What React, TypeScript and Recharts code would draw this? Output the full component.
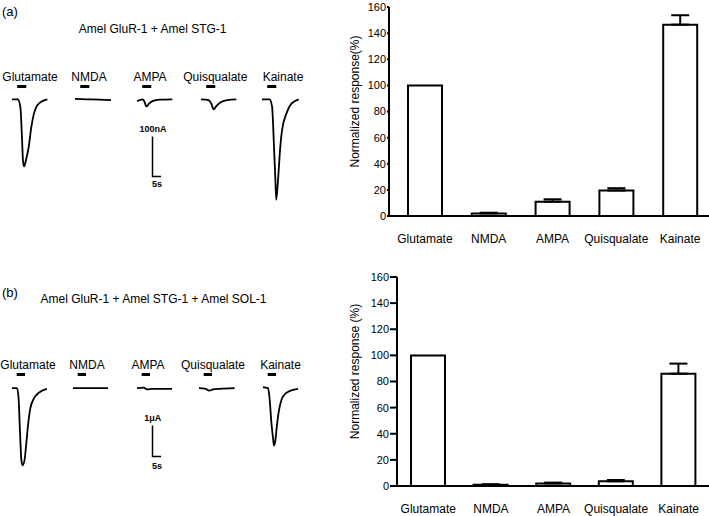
import { BarChart, Bar, XAxis, YAxis, ErrorBar, LineChart, Line, ReferenceArea, Label } from 'recharts';

const drugs = ['Glutamate', 'NMDA', 'AMPA', 'Quisqualate', 'Kainate'];
const yTicks = [0, 20, 40, 60, 80, 100, 120, 140, 160];

// normalized responses (% of glutamate) with upper SEM (glutamate is the reference, no error)
const responseA = [100, 2, 11, 19.5, 146.5];
const errorA = [null, 0.5, 1.8, 1.8, 7.2];
const responseB = [100, 1, 2, 3.6, 86];
const errorB = [null, 0.3, 0.6, 1, 7.7];

// current traces, [time (s), current]; row (a) in nA, row (b) in µA
const gluA: [number, number][] = [[0, 0], [3.4, 0], [4.8, -19], [5.8, -103], [6.3, -154], [6.9, -169], [8.2, -150], [9.6, -120], [11.1, -70], [12.6, -36], [14, -19], [15.9, -9], [17.8, -4], [20.3, 0]];
const nmdaA: [number, number][] = [[0, 1], [7, 0], [14, -1], [20.7, -2]];
const ampaA: [number, number][] = [[0, -5], [3.1, 0], [4.2, -5], [5.4, -18], [6.9, -11], [9.2, -4], [13, -1], [20.3, 0]];
const quisA: [number, number][] = [[0, 0], [4.4, -2], [5.8, -10], [7.3, -25], [8.8, -17], [11.1, -8], [14.9, -2], [20.3, 0]];
const kaiA: [number, number][] = [[0, 0], [4.4, 0], [5.8, -19], [6.9, -120], [7.7, -204], [8.2, -253], [9.2, -204], [10.5, -120], [11.5, -78], [14, -36], [16.9, -11], [21.1, 0]];

const gluB: [number, number][] = [[0, 0], [2.9, 0], [3.8, -0.34], [4.6, -1.42], [5.4, -2.33], [6.1, -2.49], [7.3, -2.28], [8.1, -1.85], [9.2, -1.2], [10.5, -0.66], [12.5, -0.34], [15.3, -0.15], [20.1, -0.02]];
const nmdaB: [number, number][] = [[0, 0], [10, 0], [20.1, 0]];
const ampaB: [number, number][] = [[0, 0], [3.8, 0.02], [5.8, -0.04], [8.6, -0.02], [13.4, -0.02], [20.1, -0.02]];
const quisB: [number, number][] = [[0, 0], [3.8, -0.02], [5.8, -0.08], [8.1, -0.04], [11.9, -0.02], [20.5, 0]];
const kaiB: [number, number][] = [[0, 0.03], [2.9, 0], [3.8, -0.34], [4.8, -1.1], [5.8, -1.63], [6.3, -1.85], [7.1, -1.69], [7.9, -1.26], [9, -0.77], [10.5, -0.4], [12.8, -0.18], [16.3, -0.07], [20.1, -0.02]];

const tracesA = [gluA, nmdaA, ampaA, quisA, kaiA];
const tracesB = [gluB, nmdaB, ampaB, quisB, kaiB];

// layout
const FONT = '"Liberation Sans", Arial, sans-serif';
const TRACE_W = 38;
const PX_PER_S = 1.74;
const traceLeftA = [12.3, 75, 137.3, 200.7, 262.3];
const traceLeftB = [11.7, 72.7, 136.7, 199.3, 263.3];
const labelXA = [30, 89, 150, 215.3, 283];
const labelXB = [28, 87, 148, 213, 280.5];

const StimBar = (p: any) => <rect x={p.x} y={p.y} width={p.width} height={3} fill="#000" />;

function Trace({ pts, left, top, height, domain, stim }: any) {
  const data = pts.map(([t, i]: [number, number]) => ({ t, i }));
  return (
    <div style={{ position: 'absolute', left, top }}>
      <LineChart width={TRACE_W} height={height} data={data} margin={{ top: 0, right: 0, bottom: 0, left: 0 }}>
        <XAxis dataKey="t" type="number" domain={[0, TRACE_W / PX_PER_S]} hide />
        <YAxis type="number" domain={domain} hide />
        <ReferenceArea x1={stim[0]} x2={stim[1]} shape={StimBar} ifOverflow="visible" />
        <Line type="monotone" dataKey="i" stroke="#000" strokeWidth={1.8} dot={false} isAnimationActive={false} />
      </LineChart>
    </div>
  );
}

function Tag({ x, y, text, size = 12, bold = false }: any) {
  return (
    <div style={{ position: 'absolute', left: x, top: y, transform: 'translate(-50%, -50%)', whiteSpace: 'nowrap', fontSize: size, fontWeight: bold ? 'bold' : 'normal', lineHeight: 1 }}>
      {text}
    </div>
  );
}

function ResponseChart({ values, errors, top, width, height, marginTop, axisHeight, yAxisWidth, tickSize, padLeft, title }: any) {
  const data = drugs.map((name, k) => ({ name, value: values[k], err: errors[k] == null ? null : [0, errors[k]] }));
  const yTitle = (props: any) => {
    const vb = props.viewBox || { x: 0, y: marginTop, width: yAxisWidth, height: height - marginTop - axisHeight };
    const cx = vb.x + 15;
    const cy = vb.y + vb.height / 2 - 10;
    return (
      <text x={cx} y={cy} transform={`rotate(-90 ${cx} ${cy})`} textAnchor="middle" dominantBaseline="central" fontSize={12} fill="#000">
        {title}
      </text>
    );
  };
  return (
    <div style={{ position: 'absolute', left: 340, top }}>
      <BarChart width={width} height={height} data={data} margin={{ top: marginTop, right: 0, bottom: 0, left: 0 }}>
        <XAxis
          dataKey="name"
          interval={0}
          height={axisHeight}
          padding={{ left: padLeft, right: 0 }}
          tickLine={false}
          tickSize={0}
          tickMargin={18.5}
          axisLine={{ stroke: '#000', strokeWidth: 2 }}
          tick={{ fill: '#000', fontSize: 12 }}
        />
        <YAxis
          domain={[0, 160]}
          ticks={yTicks}
          interval={0}
          width={yAxisWidth}
          tickSize={tickSize}
          tickMargin={1}
          axisLine={{ stroke: '#000', strokeWidth: 2 }}
          tickLine={{ stroke: '#000', strokeWidth: 2 }}
          tick={{ fill: '#000', fontSize: 11 }}
        >
          <Label content={yTitle} />
        </YAxis>
        <Bar dataKey="value" fill="#fff" stroke="#000" strokeWidth={2} barSize={34} isAnimationActive={false}>
          <ErrorBar dataKey="err" width={9} stroke="#000" strokeWidth={2} direction="y" />
        </Bar>
      </BarChart>
    </div>
  );
}

export default function App() {
  return (
    <div style={{ position: 'absolute', left: 0, top: 0, width: 709, height: 516, overflow: 'hidden', background: '#fff', fontFamily: FONT, color: '#000' }}>
      {/* panel (a) */}
      <div style={{ position: 'absolute', left: 2, top: 4, fontSize: 13 }}>(a)</div>
      <Tag x={152.7} y={29.3} text="Amel GluR-1 + Amel STG-1" />
      {drugs.map((d, k) => (
        <Tag key={'la' + d} x={labelXA[k]} y={77.3} text={d} />
      ))}
      {tracesA.map((pts, k) => (
        <Trace key={'ta' + k} pts={pts} left={traceLeftA[k]} top={85} height={120} domain={[-266, 36]} stim={[3, 8.2]} />
      ))}
      <Tag x={153} y={128.5} text="100nA" size={9} bold />
      <Tag x={157} y={184} text="5s" size={9} bold />

      {/* panel (b) */}
      <div style={{ position: 'absolute', left: 2, top: 285, fontSize: 13 }}>(b)</div>
      <Tag x={153.5} y={299} text="Amel GluR-1 + Amel STG-1 + Amel SOL-1" />
      {drugs.map((d, k) => (
        <Tag key={'lb' + d} x={labelXB[k]} y={365.3} text={d} />
      ))}
      {tracesB.map((pts, k) => (
        <Trace key={'tb' + k} pts={pts} left={traceLeftB[k]} top={372.5} height={97} domain={[-2.64, 0.49]} stim={[2.7, 7.5]} />
      ))}
      <Tag x={152.8} y={418.3} text="1μA" size={9} bold />
      <Tag x={157} y={466} text="5s" size={9} bold />

      <svg width={709} height={516} style={{ position: 'absolute', left: 0, top: 0, pointerEvents: 'none' }}>
        <path d="M152.5 136.5 V176.5 H161" fill="none" stroke="#000" strokeWidth={1.5} />
        <path d="M152.5 425.5 V456.5 H161" fill="none" stroke="#000" strokeWidth={1.5} />
      </svg>

      <ResponseChart values={responseA} errors={errorA} top={0} width={372} height={250} marginTop={7} axisHeight={34} yAxisWidth={49} tickSize={2} padLeft={4} title="Normalized response(%)" />
      <ResponseChart values={responseB} errors={errorB} top={255} width={370} height={261} marginTop={22} axisHeight={30} yAxisWidth={57} tickSize={7} padLeft={0} title="Normalized response (%)" />
    </div>
  );
}
